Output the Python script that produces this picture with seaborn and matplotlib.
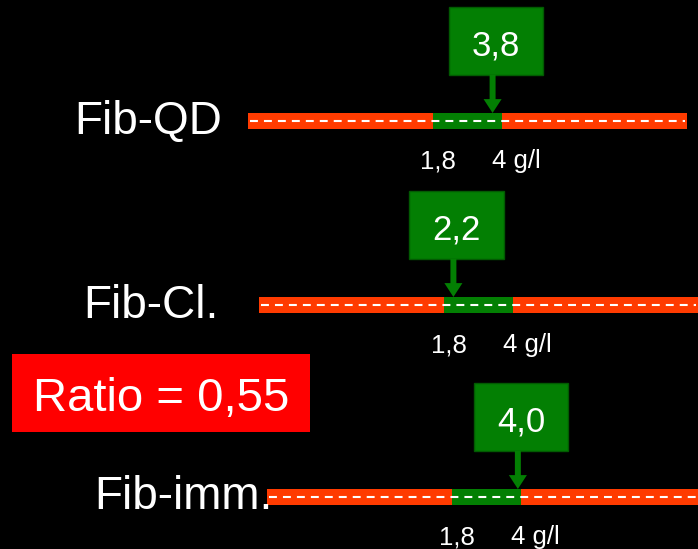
import matplotlib.pyplot as plt
import seaborn as sns
from matplotlib.patches import Rectangle

# data
rows = ['Fib-QD', 'Fib-Cl.', 'Fib-imm.']
values = [3.8, 2.2, 4.0]
normal_range = [1.8, 4.0]
range_labels = ['1,8', '4 g/l']
scale_limits = [-4.1, 9.9]
ratio = values[1] / values[2]

# layout (pixels)
W, H = 698, 549
px_per_unit = 69 / (normal_range[1] - normal_range[0])
row_y = [121, 305, 497]
anchor_x = [433, 444, 452]
name_pos = [(222, 134), (219, 318), (273, 509)]

RED = '#ff3b00'
GREEN = '#037f03'

sns.set_theme(style='dark', rc={'figure.facecolor': 'black', 'savefig.facecolor': 'black'})
plt.rcParams['font.family'] = ['Liberation Sans', 'DejaVu Sans']

fig = plt.figure(figsize=(W / 100, H / 100), dpi=100)

def fmt(x):
    return f'{x:.1f}'.replace('.', ',')

for name, v, yc, x0, (nx, ny) in zip(rows, values, row_y, anchor_x, name_pos):
    ax = fig.add_axes([0, 1 - (yc + 60) / H, 1, 180 / H])
    ax.set_xlim(normal_range[0] - x0 / px_per_unit,
                normal_range[0] + (W - x0) / px_per_unit)
    ax.set_ylim(60, -120)
    ax.axis('off')

    # scale bar: full range red, normal range green
    ax.barh(0, scale_limits[1] - scale_limits[0], left=scale_limits[0],
            height=16, color=RED, linewidth=0, clip_on=False)
    ax.barh(0, normal_range[1] - normal_range[0], left=normal_range[0],
            height=16, color=GREEN, linewidth=0, clip_on=False)
    ax.plot([scale_limits[0] + 0.07, scale_limits[1] - 0.07], [0, 0],
            color='white', lw=1.5, dashes=(3.8, 2.9), clip_on=False)

    # value box + arrow
    ax.add_patch(Rectangle((v - 1.5, -114), 3.0, 68, facecolor=GREEN,
                           edgecolor='#025a02', lw=1, clip_on=False))
    ax.text(v, -66, fmt(v), ha='center', va='baseline', color='white', fontsize=25)
    ax.annotate('', xy=(v - 0.1, -8), xytext=(v - 0.1, -46),
                arrowprops=dict(arrowstyle='simple,head_length=1.0,head_width=1.3,tail_width=0.43',
                                fc=GREEN, ec='none', shrinkA=0, shrinkB=0,
                                mutation_scale=10))

    # range labels
    ax.text(normal_range[0] + 5 / px_per_unit, 47, range_labels[0],
            ha='center', va='baseline', color='white', fontsize=18.5)
    ax.text(normal_range[1] - 10 / px_per_unit, 47, range_labels[1],
            ha='left', va='baseline', color='white', fontsize=18.5)

    fig.text(nx / W, 1 - ny / H, name, ha='right', va='baseline',
             color='white', fontsize=33, zorder=5)

# ratio box
fig.add_artist(Rectangle((12 / W, 1 - 432 / H), 298 / W, 78 / H,
                         transform=fig.transFigure, color='#ff0000', lw=0))
fig.text(161 / W, 1 - 411 / H, 'Ratio = ' + f'{ratio:.2f}'.replace('.', ','),
         ha='center', va='baseline', color='white', fontsize=34, zorder=5)

fig.savefig('out.png', dpi=100, facecolor='black')
plt.close()
